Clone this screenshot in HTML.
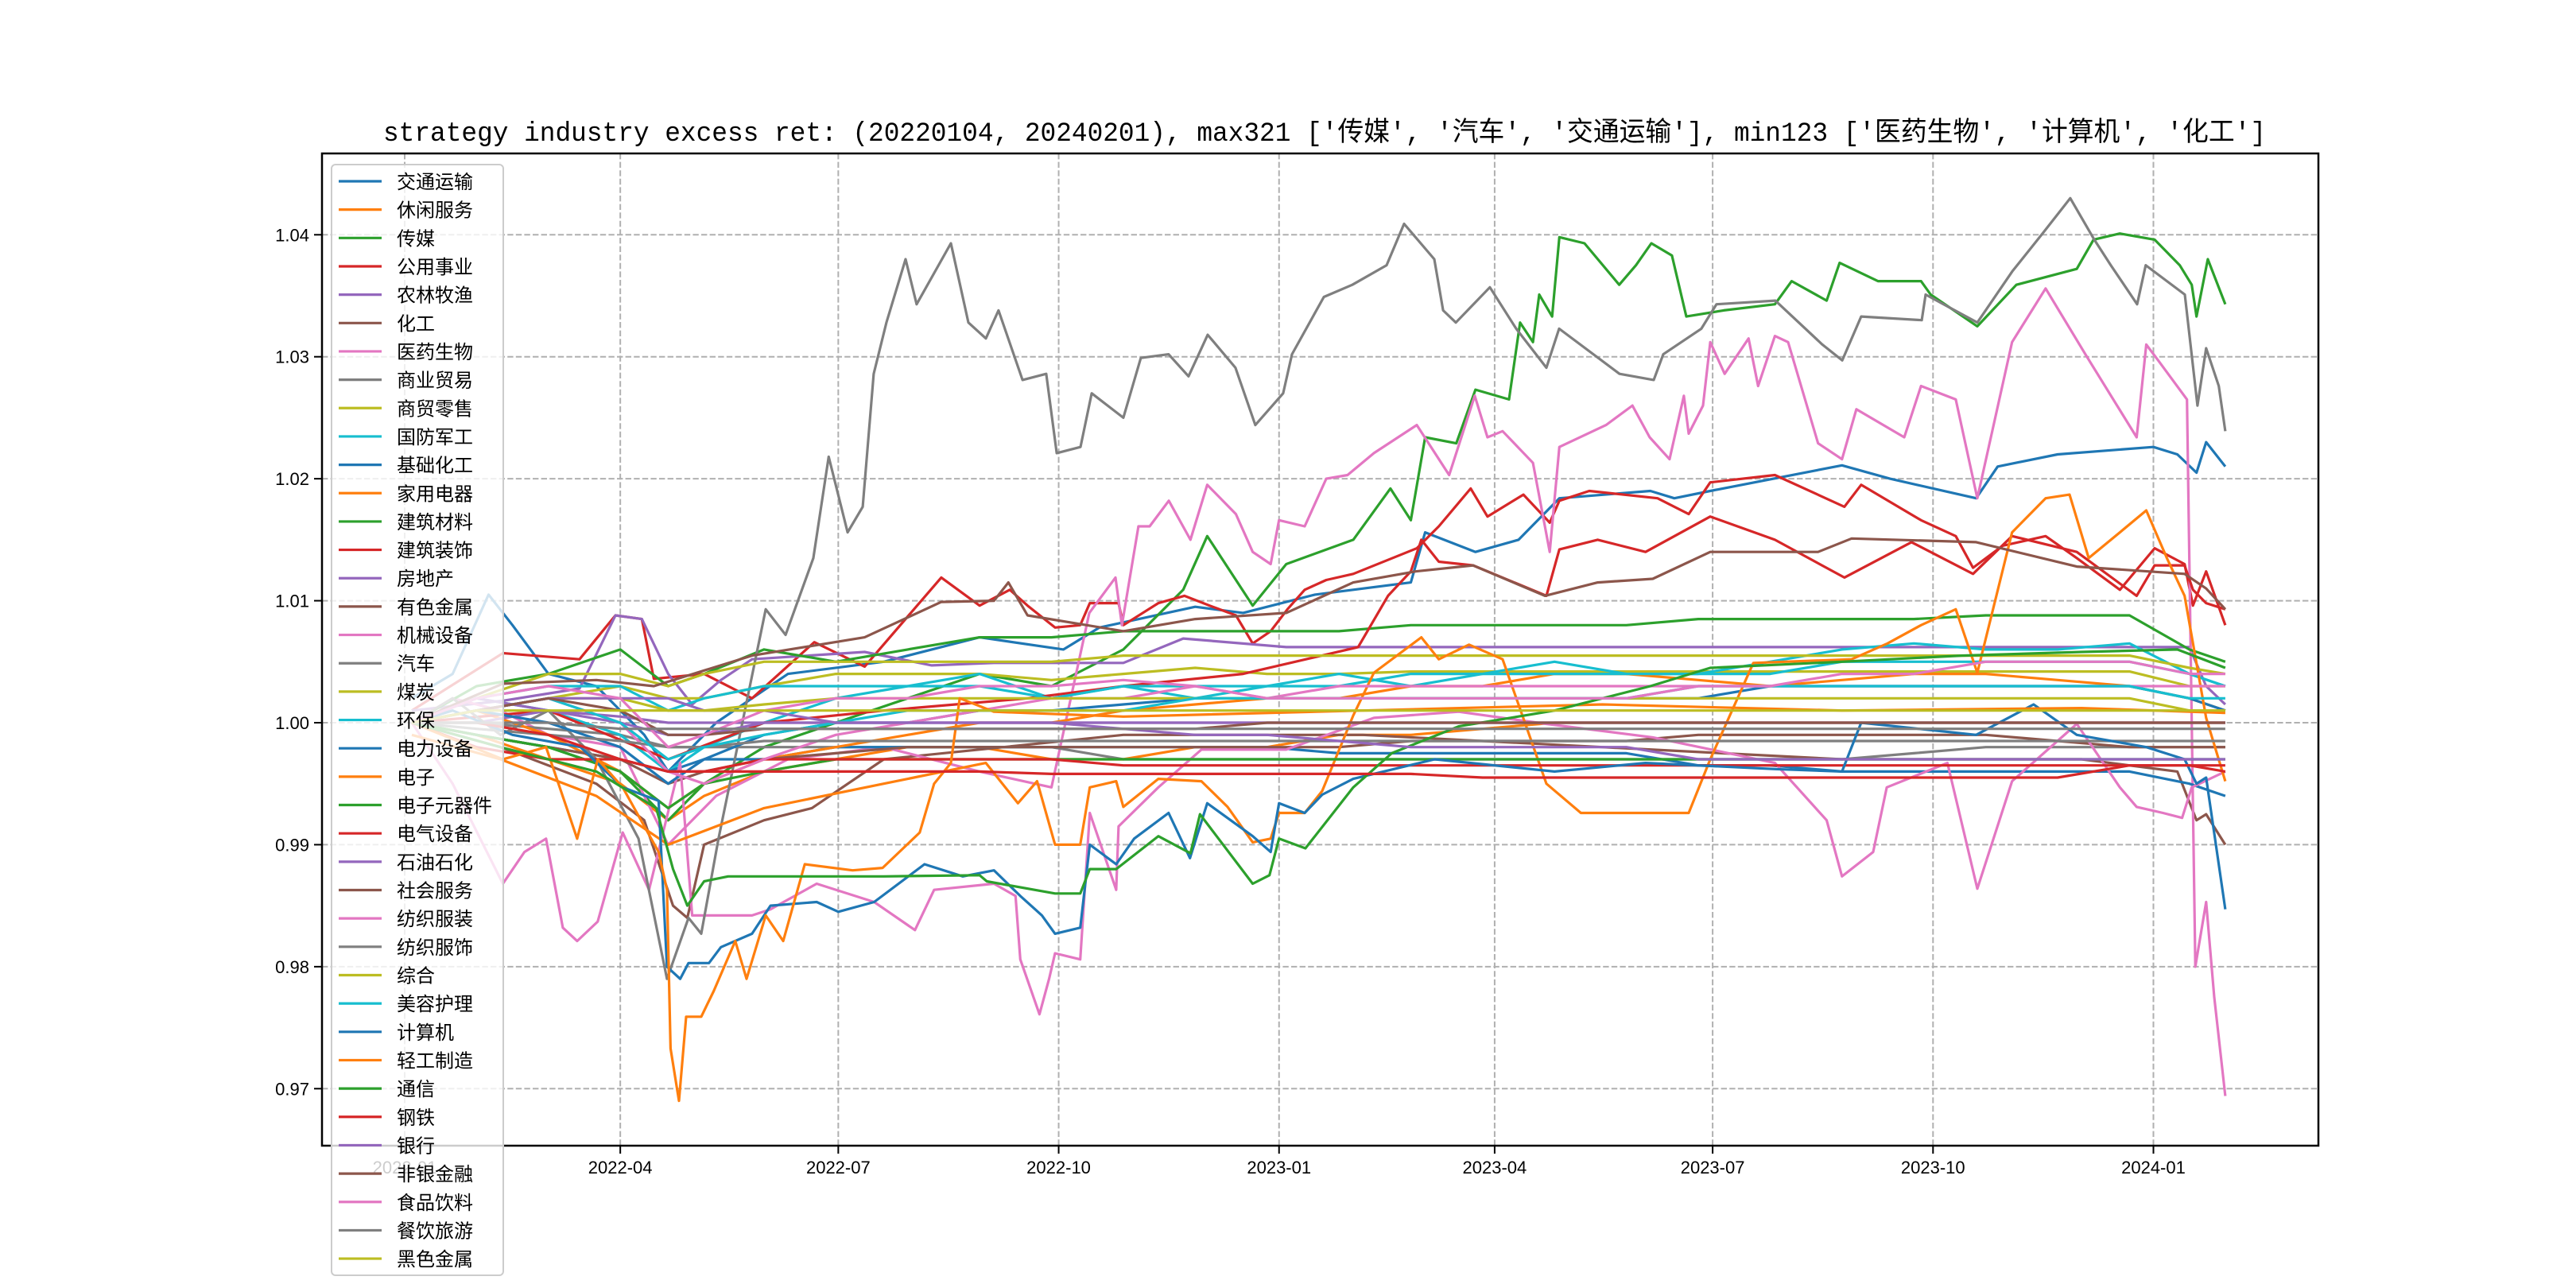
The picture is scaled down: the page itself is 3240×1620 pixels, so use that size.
<!DOCTYPE html>
<html><head><meta charset="utf-8"><style>
html,body{margin:0;padding:0;background:#fff;}
svg{display:block;}
</style></head><body>
<svg id="chart" xmlns="http://www.w3.org/2000/svg" width="3240" height="1620" viewBox="0 0 3240 1620">
<rect x="0" y="0" width="3240" height="1620" fill="#fff"/>
<text x="482" y="177" font-family="'Liberation Mono','Noto Sans CJK SC',monospace" font-size="34" textLength="2368" lengthAdjust="spacingAndGlyphs" fill="#000">strategy industry excess ret: (20220104, 20240201), max321 ['传媒', '汽车', '交通运输'], min123 ['医药生物', '计算机', '化工']</text>
<g id="grid"></g>
<g id="series"></g>
<g id="axes"></g>
<g id="legend"></g>
</svg>
<script>
const names=['交通运输','休闲服务','传媒','公用事业','农林牧渔','化工','医药生物','商业贸易','商贸零售','国防军工','基础化工','家用电器','建筑材料','建筑装饰','房地产','有色金属','机械设备','汽车','煤炭','环保','电力设备','电子','电子元器件','电气设备','石油石化','社会服务','纺织服装','纺织服饰','综合','美容护理','计算机','轻工制造','通信','钢铁','银行','非银金融','食品饮料','餐饮旅游','黑色金属'];
const palette=['#1f77b4','#ff7f0e','#2ca02c','#d62728','#9467bd','#8c564b','#e377c2','#7f7f7f','#bcbd22','#17becf'];
const yTicks=[0.97,0.98,0.99,1.00,1.01,1.02,1.03,1.04];
const yTickLabels=['0.97','0.98','0.99','1.00','1.01','1.02','1.03','1.04'];
const xTickDays=[0,90,181,273,365,455,546,638,730];
const xTickLabels=['2022-01','2022-04','2022-07','2022-10','2023-01','2023-04','2023-07','2023-10','2024-01'];
// days counted from 2022-01-01
const G=[3,30,60,90,110,125,150,180,210,240,270,300,330,360,390,420,450,480,510,540,570,600,630,660,690,720,745,760];

const d0=[3,20,35,45,60,80,100,110,130,160,200,240,275,290,330,350,380,420,426,447,465,478,482,520,530,545,600,620,656,665,690,730,740,748,752,760];
const v0=[1.002,1.004,1.0105,1.008,1.004,1.003,0.999,0.996,1.000,1.004,1.005,1.007,1.006,1.0078,1.0095,1.009,1.0105,1.0115,1.0156,1.014,1.015,1.0176,1.0184,1.019,1.0184,1.019,1.0211,1.020,1.0184,1.021,1.022,1.0226,1.022,1.0205,1.023,1.021];
const v1=[1,0.999,0.997,0.995,0.992,0.994,0.996,0.997,0.998,0.998,0.997,0.997,0.998,0.998,0.999,0.999,0.9995,1,1,1,1,1,1,1,1,1,1,1];
const d2=[3,30,60,90,110,125,150,180,210,240,270,300,325,335,354,368,396,411.5,420,426,439,447,461,465.6,471,473.6,479,482,492.5,507,514,520.4,529,535,550.6,572,579,593.6,599,615,633,637,656.5,672.8,698,705,716,730.5,741,746,748,752.7,760];
const v2=[1.000,0.999,0.998,0.996,0.992,0.995,0.998,1.000,1.002,1.004,1.003,1.006,1.0109,1.0153,1.0096,1.013,1.015,1.0192,1.0166,1.0234,1.0229,1.0273,1.0265,1.0328,1.0312,1.0351,1.0333,1.0398,1.0393,1.0359,1.0375,1.0393,1.0383,1.0333,1.0338,1.0343,1.0362,1.0346,1.0377,1.0362,1.0362,1.0351,1.0325,1.0359,1.0372,1.0396,1.0401,1.0396,1.0375,1.0359,1.0333,1.038,1.0343];
const d3=[3,41,73,88,99,104,125,145,171,192,224,240,252.6,260,271.5,282,286,298,300,314.6,325.5,336,347,354,361.5,368.5,375.7,384.7,396,422.5,431.7,445,452,467,478,482,494.5,523,536,545,572,601,608,633,647.5,654.7,667,685,698,716,730.5,743,746.5,752,760];
const v3=[1.001,1.0057,1.0052,1.0088,1.0085,1.0036,1.004,1.002,1.0066,1.0046,1.0119,1.0096,1.0109,1.0096,1.0078,1.008,1.0098,1.0098,1.008,1.0098,1.0104,1.0096,1.0088,1.0065,1.0075,1.0093,1.0109,1.0117,1.0122,1.0143,1.0161,1.0192,1.0169,1.0187,1.0164,1.0182,1.019,1.0184,1.0171,1.0197,1.0203,1.0177,1.0195,1.0166,1.0153,1.0127,1.0145,1.0153,1.0135,1.0109,1.0143,1.013,1.0096,1.0124,1.008];
const d4=[3,41,73,88,99,110,120,132,145,192,220,246,300,325,368,440,520,600,700,745,752,760];
const v4=[1.001,1.0018,1.0028,1.0088,1.0085,1.004,1.0015,1.0035,1.0052,1.0058,1.0047,1.0049,1.0049,1.0069,1.0062,1.0062,1.0062,1.0062,1.0062,1.0062,1.003,1.0015];
const d5=[3,40,80,100,112,118,125,150,170,200,250,300,400,500,600,700,740,748,752,760];
const v5=[1,0.998,0.995,0.992,0.985,0.984,0.99,0.992,0.993,0.997,0.998,0.999,0.999,0.998,0.997,0.997,0.996,0.992,0.9925,0.99];
const d6=[3,20,40,60,90,110,130,160,200,240,270,285.8,296.7,299.4,306.3,311,319,328,335,347,354,361.5,365,375.7,384.7,393.6,404.6,422.5,436,446.7,452,458.3,471,478,482,501.5,512.5,519.7,528,534,536,542,545,551,561,565,572,577.5,590,600,606,626,633,647.5,656.5,671,685,701.6,723,727,732,744,747.5,752,755.4,760];
const v6=[1.0,1.002,1.001,0.999,0.998,0.99,0.994,0.997,0.998,0.996,0.9947,1.009,1.0119,1.008,1.0161,1.0161,1.0182,1.015,1.0195,1.0171,1.014,1.013,1.0166,1.0161,1.02,1.0203,1.0221,1.0244,1.0203,1.0268,1.0234,1.0239,1.0213,1.014,1.0226,1.0244,1.026,1.0234,1.0216,1.0268,1.0237,1.026,1.0312,1.0286,1.0315,1.0276,1.0317,1.0312,1.0229,1.0216,1.0257,1.0234,1.0276,1.0265,1.0184,1.0312,1.0356,1.0302,1.0234,1.031,1.0297,1.0265,0.980,0.9853,0.9775,0.9694];
const v7=[1,1,0.9995,0.999,0.998,0.998,0.998,0.998,0.998,0.998,0.998,0.997,0.997,0.997,0.997,0.997,0.997,0.997,0.997,0.997,0.997,0.997,0.9975,0.998,0.998,0.998,0.998,0.998];
const v8=[1,1.001,1.002,1.003,1.002,1.002,1.003,1.004,1.004,1.004,1.0035,1.004,1.0045,1.004,1.004,1.0042,1.0042,1.0042,1.0042,1.0042,1.0042,1.0042,1.0042,1.0042,1.0042,1.0042,1.003,1.003];
const v9=[1,1.002,1.001,0.999,0.996,0.998,1.0,1.002,1.003,1.004,1.002,1.003,1.002,1.003,1.004,1.003,1.004,1.005,1.004,1.004,1.005,1.006,1.0065,1.006,1.006,1.0065,1.004,1.003];
const v10=[1,0.999,0.998,0.997,0.996,0.997,0.997,0.998,0.998,0.998,0.998,0.998,0.998,0.998,0.9975,0.9975,0.9975,0.9975,0.9975,0.9965,0.9965,0.996,0.996,0.996,0.996,0.996,0.995,0.994];
const v11=[1,1.001,0.999,0.996,0.993,0.995,0.997,0.998,0.999,1.0,1.0,1.001,1.0015,1.002,1.002,1.003,1.003,1.004,1.004,1.0035,1.003,1.0035,1.004,1.004,1.0035,1.003,1.002,1.001];
const v12=[1,1.003,1.004,1.006,1.003,1.004,1.006,1.005,1.006,1.007,1.007,1.0075,1.0075,1.0075,1.0075,1.008,1.008,1.008,1.008,1.0085,1.0085,1.0085,1.0085,1.0088,1.0088,1.0088,1.006,1.005];
const d13=[3,60,110,150,200,260,300,350,398,410.5,420,424.4,431.7,446,476.6,482,498,518,545,572,601,629,654.7,671,698,723,730.5,743,746.5,752,760];
const v13=[1,1.001,0.997,1.0,1.001,1.002,1.003,1.004,1.0062,1.0104,1.0124,1.015,1.0132,1.0129,1.0104,1.0142,1.015,1.014,1.0169,1.015,1.0119,1.0148,1.0122,1.0153,1.014,1.0104,1.0129,1.0129,1.0109,1.0098,1.0093];
const v14=[1,1,1.001,1.0005,1,1,1,1,1,1,1,1,1,1,1,1,1,1,1,1,1,1,1,1,1,1,1,1];
const v15=[1,0.999,0.998,0.997,0.995,0.996,0.997,0.9975,0.998,0.998,0.998,0.998,0.998,0.998,0.998,0.9985,0.9985,0.9985,0.9985,0.999,0.999,0.999,0.999,0.999,0.9985,0.998,0.998,0.998];
const d16=[3,20,41,50,59,66,72,80.6,91,102,115,120,145,152.7,172,196,213,221,246,255,257,265,269,271.5,282,286,297,298,314.6,332.6,368,404.6,440,476.6,521,572,593.6,600,613,618.7,644,656.5,671,698,716,723,734,742,746,760];
const v16=[1.0,0.995,0.9868,0.9894,0.9905,0.9832,0.9821,0.9837,0.991,0.9863,0.9967,0.9842,0.9842,0.9847,0.9868,0.9853,0.983,0.9863,0.9868,0.9858,0.9806,0.9761,0.979,0.9811,0.9806,0.9926,0.9863,0.9915,0.9947,0.9978,0.9978,1.0004,1.0009,0.9999,0.9988,0.9967,0.992,0.9874,0.9894,0.9947,0.9967,0.9864,0.9952,0.9999,0.9947,0.9931,0.9926,0.9922,0.9947,0.996];
const d17=[3,20,40,60,80,97.6,109.5,118.5,123.8,131,150.7,159,170.6,177,184.9,191.2,195.8,201.1,209.1,213.7,228,235.3,242.6,247.9,257.9,267.8,272.2,282.1,286.8,300,307.3,318.9,327.2,335.2,346.8,355.1,366.7,370.4,383.7,395.6,409.9,417.2,429.8,433.5,438.8,453,464,476.6,481.9,507.1,521.4,525.4,541.3,547.6,572.2,591.8,600.1,608,633.3,634.9,656.5,671.1,683.7,695.3,705.3,712.2,723.2,726.8,743.1,748.4,752,757.3,760];
const v17=[1.000,1.002,0.999,1.001,0.997,0.9905,0.979,0.984,0.9827,0.9905,1.0093,1.0072,1.0135,1.0218,1.0156,1.0177,1.0286,1.0328,1.038,1.0343,1.0393,1.0328,1.0315,1.0338,1.0281,1.0286,1.0221,1.0226,1.027,1.025,1.0299,1.0302,1.0284,1.0318,1.0291,1.0244,1.027,1.0302,1.0349,1.0359,1.0375,1.0409,1.038,1.0338,1.0328,1.0357,1.0323,1.0291,1.0323,1.0286,1.0281,1.0302,1.0323,1.0343,1.0346,1.031,1.0297,1.0333,1.033,1.0351,1.0328,1.037,1.0401,1.043,1.0396,1.0375,1.0343,1.0375,1.0351,1.026,1.0307,1.0276,1.0239];
const v18=[1,1.002,1.004,1.004,1.003,1.004,1.005,1.005,1.005,1.005,1.005,1.0055,1.0055,1.0055,1.0055,1.0055,1.0055,1.0055,1.0055,1.0055,1.0055,1.0055,1.0055,1.0055,1.0055,1.0055,1.0045,1.004];
const v19=[1,1.002,1.003,1.003,1.001,1.002,1.003,1.003,1.003,1.003,1.002,1.003,1.003,1.003,1.003,1.004,1.004,1.004,1.004,1.004,1.004,1.005,1.005,1.005,1.005,1.005,1.004,1.003];
const v20=[1,1.001,1.0,0.998,0.995,0.997,0.999,1.0,1.0,1.001,1.001,1.0015,1.002,1.002,1.002,1.002,1.002,1.002,1.002,1.002,1.003,1.003,1.003,1.003,1.003,1.003,1.002,1.001];
const d21=[3,40,80,110,150,200,242.6,256,264,271.5,282,286,297,300,314.6,332.6,343.5,354,361.5,365,375.7,383,396,404.6,424.4,431.7,444.3,458.3,476.6,491,521,536,545,563,604,619,633,647.5,656.5,671,685,695,703,716,727,735.6,743,752,760];
const v21=[0.999,0.997,0.994,0.990,0.993,0.995,0.9967,0.9934,0.9952,0.99,0.99,0.9947,0.9952,0.9931,0.9954,0.9952,0.9931,0.9902,0.9905,0.9926,0.9926,0.9944,1.0006,1.0041,1.007,1.0052,1.0064,1.0052,0.995,0.9926,0.9926,0.9926,0.997,1.0049,1.0052,1.0065,1.008,1.0093,1.0041,1.0156,1.0184,1.0187,1.0135,1.0156,1.0174,1.0135,1.0104,1.0004,0.9952];
const v22=[1,0.999,0.998,0.996,0.993,0.995,0.996,0.997,0.997,0.997,0.997,0.997,0.997,0.997,0.997,0.997,0.997,0.997,0.997,0.997,0.997,0.997,0.997,0.997,0.997,0.997,0.997,0.997];
const v23=[1,0.998,0.997,0.997,0.996,0.996,0.997,0.997,0.997,0.997,0.997,0.9965,0.9965,0.9965,0.9965,0.9965,0.9965,0.9965,0.9965,0.9965,0.9965,0.9965,0.9965,0.9965,0.9965,0.9965,0.9965,0.9965];
const v24=[1,1.002,1.001,1.0,0.999,0.999,1.0,1.0,1.0,1.0,1.0,1.0,1.0,1.0,1.0,1.0,1.0,1.0,1.0,1.0,1.0,1.0,1.0,1.0,1.0,1.0,1.0,1.0];
const d25=[3,41,80,104,145,192,224,246,252,260,300,330,368,396,422,446,476,498,521,545,590,604,656,698,743,752,760];
const v25=[1,1.0032,1.0035,1.003,1.0055,1.007,1.0099,1.01,1.0115,1.0088,1.0075,1.0085,1.009,1.0115,1.0124,1.0129,1.0104,1.0115,1.0118,1.014,1.014,1.0151,1.0148,1.0128,1.0122,1.011,1.0093];
const v26=[1,1.001,1.002,1.0,0.996,0.995,0.997,0.999,1.0,1.001,1.002,1.002,1.003,1.002,1.003,1.003,1.003,1.003,1.003,1.003,1.003,1.003,1.003,1.003,1.003,1.003,1.003,1.003];
const v27=[1,0.9995,0.999,0.9985,0.998,0.998,0.9985,0.9985,0.9985,0.9985,0.9985,0.9985,0.9985,0.9985,0.9985,0.9985,0.9985,0.9985,0.9985,0.9985,0.9985,0.9985,0.9985,0.9985,0.9985,0.9985,0.9985,0.9985];
const v28=[1,1.001,1.002,1.002,1.001,1.001,1.0015,1.002,1.002,1.002,1.002,1.002,1.002,1.002,1.002,1.002,1.002,1.002,1.002,1.002,1.002,1.002,1.002,1.002,1.002,1.002,1.001,1.001];
const v29=[1,1.001,1.002,1.0,0.997,0.998,0.999,1.0,1.001,1.001,1.001,1.001,1.002,1.002,1.002,1.002,1.002,1.002,1.002,1.003,1.003,1.003,1.003,1.003,1.003,1.003,1.002,1.002];
const d30=[3,20,45,73.4,91,106,109.5,115,118.5,127,132,145,152.7,172,181,196,217,233,246,257,266,271.5,282,286,297,304.5,318.9,327.8,335,354,361.5,365,375.7,383,396,430,480,518,572,600,608,656,680,698,727,743,748,752,760];
const v30=[1.0,1.001,0.999,0.998,0.9947,0.9936,0.980,0.979,0.9803,0.9803,0.9816,0.9827,0.985,0.9853,0.9845,0.9853,0.9884,0.9874,0.9879,0.9858,0.9842,0.9827,0.9832,0.99,0.9884,0.9905,0.9926,0.9889,0.9934,0.9907,0.9894,0.9934,0.9926,0.9941,0.9954,0.997,0.996,0.9967,0.9962,0.996,1.0,0.999,1.0015,0.999,0.998,0.997,0.995,0.9955,0.9847];
const d31=[3,41,59,72,80.6,91,106,109.5,111,114.5,117.5,123.8,129,138,142.7,150.7,158,167,187,199.5,215,221,228,231.7,246,300,400,500,600,700,760];
const v31=[1.0,0.997,0.998,0.9905,0.997,0.9947,0.9894,0.9863,0.9733,0.969,0.9759,0.9759,0.978,0.9821,0.979,0.9842,0.9821,0.9884,0.9879,0.9881,0.991,0.995,0.9967,1.002,1.0009,1.0005,1.001,1.0015,1.001,1.0012,1.0008];
const d32=[3,40,80,105,112,118,125,135,200,240,243,271.5,282,286,297,314.6,328,332,354,361,365,376,396,412,440,480,520,545,600,650,700,740,760];
const v32=[1.000,0.998,0.996,0.993,0.988,0.985,0.987,0.9874,0.9874,0.9875,0.987,0.986,0.986,0.988,0.988,0.9907,0.9893,0.9925,0.9868,0.9875,0.9905,0.9897,0.9947,0.9975,0.9997,1.001,1.003,1.0045,1.005,1.0055,1.0058,1.006,1.0045];
const v33=[1,1.0,0.999,0.997,0.996,0.996,0.996,0.996,0.996,0.996,0.9958,0.9958,0.9958,0.9958,0.9958,0.9958,0.9955,0.9955,0.9955,0.9955,0.9955,0.9955,0.9955,0.9955,0.9955,0.9965,0.9965,0.996];
const v34=[1,1.001,1.002,1.002,1.002,1.001,1.001,1.0,1.0,1.0,1.0,0.9995,0.999,0.999,0.9985,0.998,0.998,0.998,0.998,0.997,0.997,0.997,0.997,0.997,0.997,0.997,0.997,0.997];
const v35=[1,1.001,1.002,1.001,0.999,0.999,0.9995,0.9995,0.9995,0.9995,0.9995,0.9995,0.9995,1,1,1,1,1,1,1,1,1,1,1,1,1,1,1];
const v36=[1,1.002,1.003,1.002,0.998,0.999,1.001,1.002,1.002,1.003,1.003,1.0035,1.003,1.002,1.002,1.002,1.002,1.002,1.002,1.003,1.003,1.004,1.004,1.005,1.005,1.005,1.004,1.004];
const v37=[1,1,1,0.9995,0.9995,0.9995,0.9995,0.9995,0.9995,0.9995,0.9995,0.9995,0.9995,0.9995,0.9995,0.9995,0.9995,0.9995,0.9995,0.9995,0.9995,0.9995,0.9995,0.9995,0.9995,0.9995,0.9995,0.9995];
const v38=[1,1.001,1.001,1.001,1.001,1.001,1.001,1.001,1.001,1.001,1.001,1.001,1.001,1.001,1.001,1.001,1.001,1.001,1.001,1.001,1.001,1.001,1.001,1.001,1.001,1.001,1.001,1.001];

const seriesDays=[d0,G,d2,d3,d4,d5,d6,G,G,G,G,G,G,d13,G,G,d16,d17,G,G,G,d21,G,G,G,d25,G,G,G,G,d30,d31,d32,G,G,G,G,G,G];
const seriesVals=[v0,v1,v2,v3,v4,v5,v6,v7,v8,v9,v10,v11,v12,v13,v14,v15,v16,v17,v18,v19,v20,v21,v22,v23,v24,v25,v26,v27,v28,v29,v30,v31,v32,v33,v34,v35,v36,v37,v38];

const NS='http://www.w3.org/2000/svg';
const L=405,R=2916,T=193,B=1441;
function xS(d){return 509+d*3.013;}
function yS(v){return 909-(v-1)*15343;}
function mk(tag,attrs,parent){const e=document.createElementNS(NS,tag);for(const k in attrs)e.setAttribute(k,attrs[k]);parent.appendChild(e);return e;}

const grid=document.getElementById('grid');
yTicks.forEach((t,i)=>{
  const ln=mk('line',{x1:L,x2:R,y1:yS(t),y2:yS(t),stroke:'#b0b0b0','stroke-width':2,'stroke-dasharray':'7.4 3.2'},grid);
  
  
});
xTickDays.forEach((d,i)=>{
  const ln=mk('line',{x1:xS(d),x2:xS(d),y1:T,y2:B,stroke:'#b0b0b0','stroke-width':2,'stroke-dasharray':'7.4 3.2'},grid);
  
  
});

const sg=document.getElementById('series');
seriesVals.forEach((vals,i)=>{
  const days=seriesDays[i];
  const n=Math.min(days.length,vals.length);
  const pts=[];
  for(let k=0;k<n;k++)pts.push(xS(days[k]).toFixed(1)+','+yS(vals[k]).toFixed(1));
  const pl=mk('polyline',{points:pts.join(' '),fill:'none',stroke:palette[i%10],'stroke-width':3.2,'stroke-linejoin':'round'},sg);
  
  
});

const ax=document.getElementById('axes');
const fr=mk('rect',{x:L,y:T,width:R-L,height:B-T,fill:'none',stroke:'#000','stroke-width':2.5},ax);


yTicks.forEach((t,i)=>{
  const tk=mk('line',{x1:L-10,x2:L,y1:yS(t),y2:yS(t),stroke:'#000','stroke-width':2},ax);
  
  
  const tx=mk('text',{x:L-16,y:yS(t)+8,'text-anchor':'end','font-family':"'Liberation Sans',sans-serif",'font-size':22,fill:'#000'},ax);
  tx.textContent=yTickLabels[i];
  
  
});
xTickDays.forEach((d,i)=>{
  const tk=mk('line',{x1:xS(d),x2:xS(d),y1:B,y2:B+10,stroke:'#000','stroke-width':2},ax);
  
  
  const tx=mk('text',{x:xS(d),y:B+35,'text-anchor':'middle','font-family':"'Liberation Sans',sans-serif",'font-size':22,fill:'#000'},ax);
  tx.textContent=xTickLabels[i];
  
  
});

const lg=document.getElementById('legend');
const box=mk('rect',{x:417,y:207,width:216,height:1397,rx:5,fill:'#fff','fill-opacity':0.8,stroke:'#cccccc','stroke-width':2},lg);


names.forEach((nm,i)=>{
  const y=228+i*35.66;
  const ln=mk('line',{x1:426,x2:480,y1:y,y2:y,stroke:palette[i%10],'stroke-width':3.2},lg);
  
  
  const tx=mk('text',{x:499,y:y+9,'font-family':"'Liberation Sans','Noto Sans CJK SC',sans-serif",'font-size':24,fill:'#000'},lg);
  tx.textContent=nm;
  
  
});
</script>
</body></html>
